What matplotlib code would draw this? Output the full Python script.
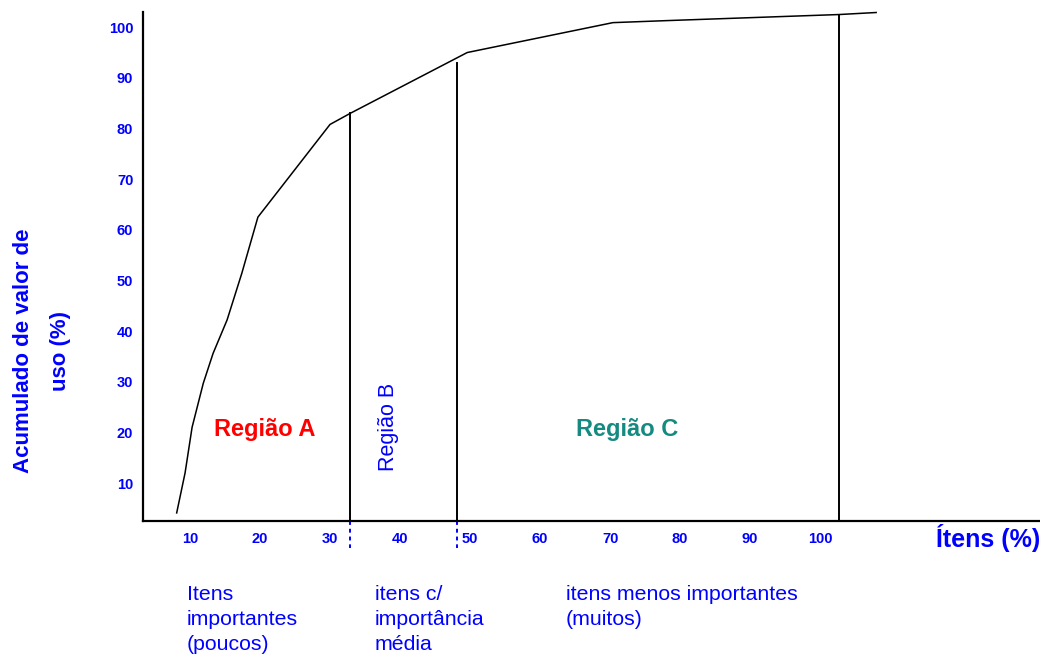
import matplotlib
matplotlib.use("Agg")
import matplotlib.pyplot as plt

plt.rcParams['font.family'] = ['Liberation Sans', 'DejaVu Sans']

# curva ABC
itens = [8.1, 9.3, 10.3, 11.9, 13.3, 15.3, 17.4, 19.7, 30.0, 32.9, 49.6, 70.4, 78.1, 102.7, 108.0]
acum = [4.1, 12.0, 21.0, 29.7, 35.6, 42.2, 51.4, 62.5, 80.8, 83.0, 95.0, 100.9, 101.3, 102.5, 102.9]

# limites das regioes e altura da curva em cada um
lim_x = [32.9, 48.1, 102.7]
lim_y = [83.0, 93.0, 102.5]

xticks = [10, 20, 30, 40, 50, 60, 70, 80, 90, 100]
yticks = [10, 20, 30, 40, 50, 60, 70, 80, 90, 100]

blue = '#0000ff'
W, H = 1040, 654

fig = plt.figure(figsize=(W / 100, H / 100), dpi=100)
ax = fig.add_axes([143 / W, 133 / H, 897 / W, 509 / H])

ax.plot(itens, acum, color='black', lw=1.1, clip_on=False)
for x, y in zip(lim_x, lim_y):
    ax.plot([x, x], [2.5, y], color='black', lw=1.4)
# tracejado abaixo do eixo nos limites A/B e B/C
for x in lim_x[:2]:
    ax.plot([x, x], [2.5, -2.8], color=blue, lw=1.4, ls=(0, (2, 2)), clip_on=False)

ax.set_xlim(3.29, 131.4)
ax.set_ylim(2.5, 103.0)
ax.set_xticks(xticks)
ax.set_yticks(yticks)
ax.tick_params(length=0, colors=blue, labelsize=10.5)
ax.tick_params(axis='x', pad=8)
ax.tick_params(axis='y', pad=7)
for lab in ax.get_xticklabels() + ax.get_yticklabels():
    lab.set_fontweight('bold')

ax.spines['top'].set_visible(False)
ax.spines['right'].set_visible(False)
ax.spines['left'].set_linewidth(1.6)
ax.spines['bottom'].set_linewidth(1.6)

ax.text(20.7, 20.6, 'Região A', color='red', fontsize=17, fontweight='bold', ha='center', va='center')
ax.text(38.3, 21.0, 'Região B', color=blue, fontsize=15.5, rotation=90, ha='center', va='center')
ax.text(72.4, 20.6, 'Região C', color='#158a80', fontsize=17, fontweight='bold', ha='center', va='center')


def px(x, y):
    return x / W, 1 - y / H


fig.text(*px(1040, 538), 'Ítens (%)', color=blue, fontsize=18, fontweight='bold', ha='right', va='center')
fig.text(*px(42, 351), 'Acumulado de valor de\nuso (%)', color=blue, fontsize=16, fontweight='bold',
         rotation=90, ha='center', va='center', multialignment='center', linespacing=2.0)

fig.text(*px(187, 585), 'Itens\nimportantes\n(poucos)', color=blue, fontsize=15.3, ha='left', va='top', linespacing=1.4)
fig.text(*px(375, 585), 'itens c/\nimportância\nmédia', color=blue, fontsize=15.3, ha='left', va='top', linespacing=1.4)
fig.text(*px(566, 585), 'itens menos importantes\n(muitos)', color=blue, fontsize=15.3, ha='left', va='top', linespacing=1.4)

fig.savefig('out.png', dpi=100)
